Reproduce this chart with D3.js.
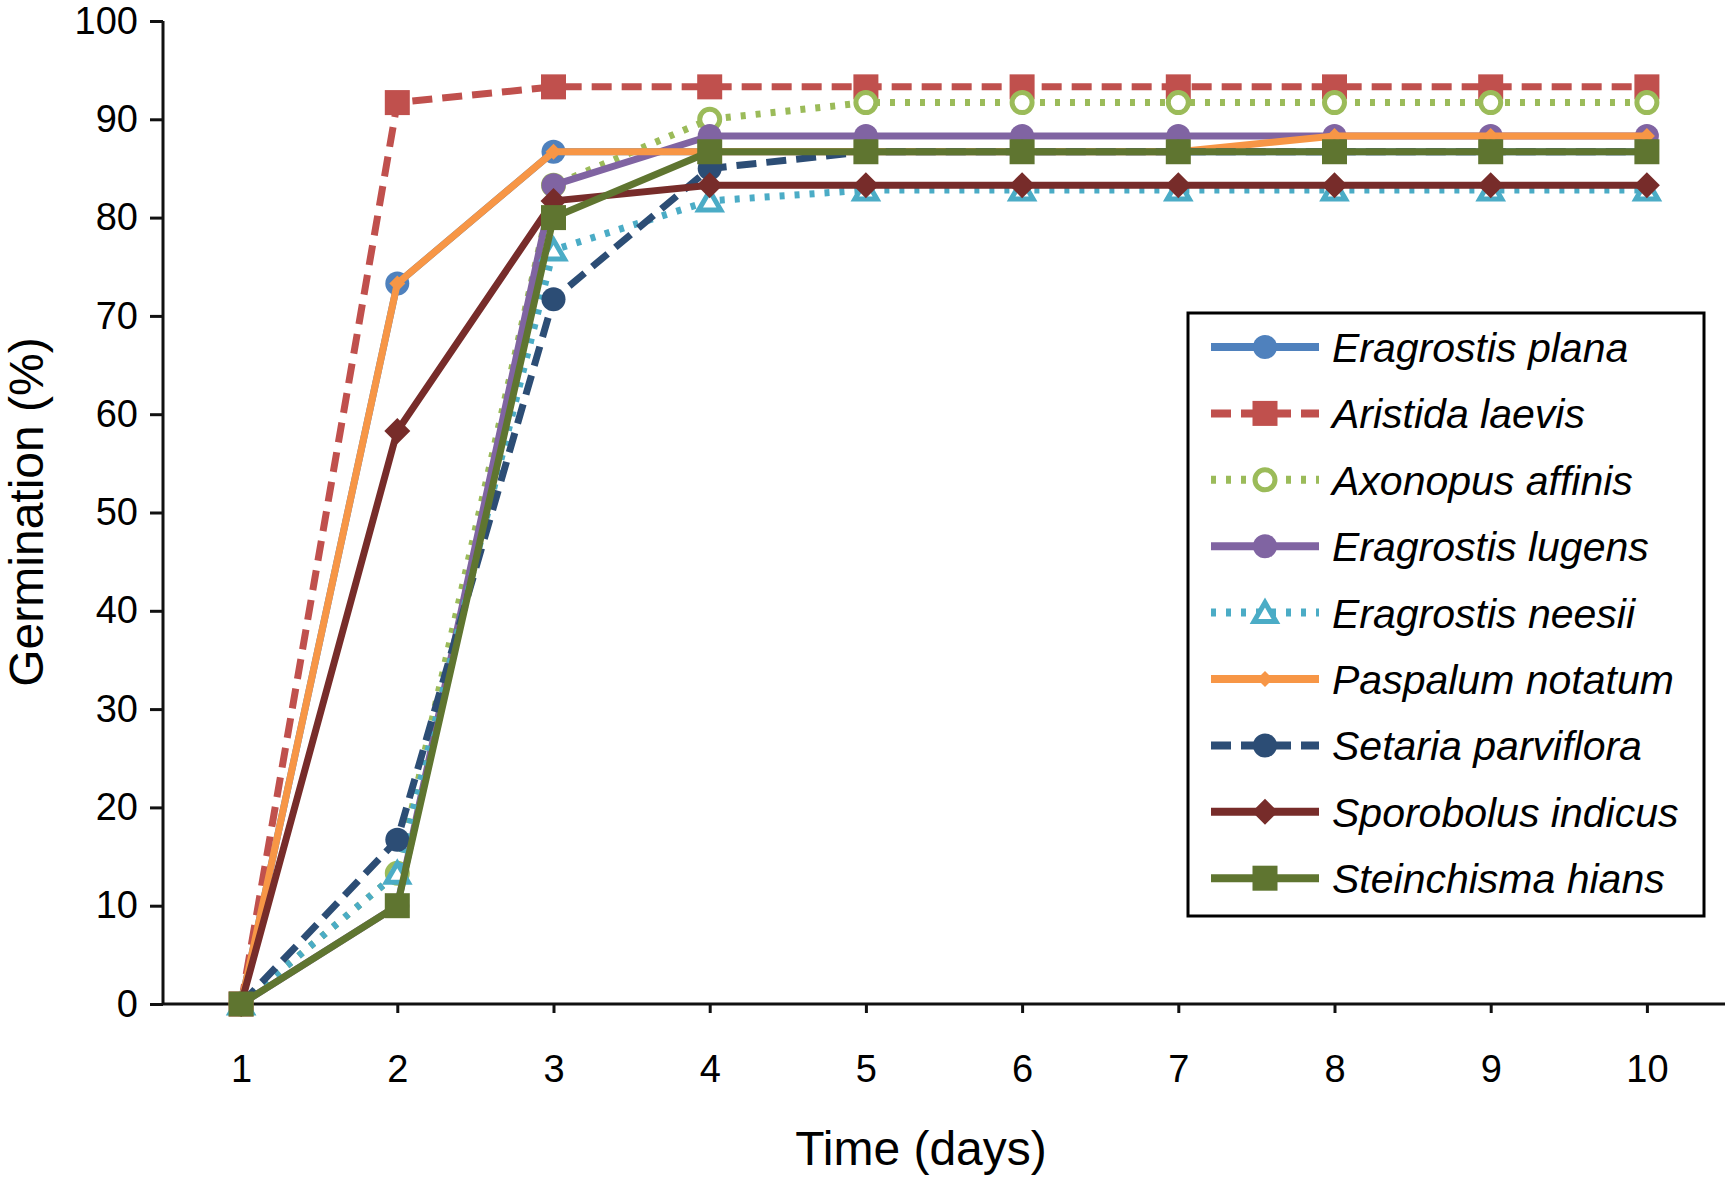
<!DOCTYPE html>
<html>
<head>
<meta charset="utf-8">
<script src="https://cdn.jsdelivr.net/npm/d3@7"></script>
<style>
  body { margin: 0; background: #fff; }
  text { font-family: "Liberation Sans", Arial, Helvetica, sans-serif; fill: #000; }
</style>
</head>
<body>
<div id="chart"></div>
<script>
/* germination (%) per day */
var days = [1, 2, 3, 4, 5, 6, 7, 8, 9, 10];
var yTicks = [0, 10, 20, 30, 40, 50, 60, 70, 80, 90, 100];

var species = ["Eragrostis plana", "Aristida laevis", "Axonopus affinis", "Eragrostis lugens",
               "Eragrostis neesii", "Paspalum notatum", "Setaria parviflora", "Sporobolus indicus",
               "Steinchisma hians"];

var plana      = [0, 73.3, 86.7, 86.7, 86.7, 86.7, 86.7, 86.7, 86.7, 86.7];
var laevis     = [0, 91.7, 93.3, 93.3, 93.3, 93.3, 93.3, 93.3, 93.3, 93.3];
var affinis    = [0, 13.3, 83.3, 90.0, 91.7, 91.7, 91.7, 91.7, 91.7, 91.7];
var lugens     = [0, 10.0, 83.3, 88.3, 88.3, 88.3, 88.3, 88.3, 88.3, 88.3];
var neesii     = [0, 13.3, 76.7, 81.7, 82.8, 82.8, 82.8, 82.8, 82.8, 82.8];
var notatum    = [0, 73.3, 86.7, 86.7, 86.7, 86.7, 86.7, 88.3, 88.3, 88.3];
var parviflora = [0, 16.7, 71.7, 85.0, 86.7, 86.7, 86.7, 86.7, 86.7, 86.7];
var indicus    = [0, 58.3, 81.7, 83.3, 83.3, 83.3, 83.3, 83.3, 83.3, 83.3];
var hians      = [0, 10.0, 80.0, 86.7, 86.7, 86.7, 86.7, 86.7, 86.7, 86.7];

var values = [plana, laevis, affinis, lugens, neesii, notatum, parviflora, indicus, hians];

// look of each series (same order as species)
var colors = ["#4F81BD", "#C0504D", "#9BBB59", "#8064A2", "#4BACC6", "#F79646", "#2C4D75", "#772C2A", "#5F7530"];
var dashes = [null, "20,10", "5,10", null, "5,10", null, "20,10", null, null];
var shapes = ["circle", "square", "ring", "circle", "triangle", "smalldiamond", "circle", "diamond", "square"];

var width = 1726, height = 1188;
var margin = {top: 21, right: 1, bottom: 184, left: 163};

var svg = d3.select("#chart")
            .append("svg")
            .attr("width", width)
            .attr("height", height);

svg.append("rect").attr("width", width).attr("height", height).style("fill", "#fff");

var x = d3.scalePoint()
          .domain(days)
          .range([margin.left, width - margin.right])
          .padding(0.5);

var y = d3.scaleLinear()
          .domain([0, 100])
          .range([height - margin.bottom, margin.top]);

/* axes */
var yAxis = svg.append("g")
               .attr("transform", "translate(" + margin.left + ",0)")
               .call(d3.axisLeft(y).tickValues(yTicks).tickSize(13).tickPadding(12));

var xAxis = svg.append("g")
               .attr("transform", "translate(0," + y(0) + ")")
               .call(d3.axisBottom(x).tickSize(9).tickPadding(42).tickSizeOuter(0));

[yAxis, xAxis].forEach(function(a) {
  a.select(".domain").style("stroke", "#111").style("stroke-width", 3);
  a.selectAll(".tick line").style("stroke", "#111").style("stroke-width", 3);
  a.selectAll(".tick text").style("font-size", "38px").style("fill", "#000");
});
// y axis stops at 100, no outer tick
yAxis.select(".domain").attr("d", "M0," + y(0) + "V" + y(100));
xAxis.select(".domain").attr("d", "M" + margin.left + ",0H" + (width - margin.right));

svg.append("text")
   .attr("x", 921).attr("y", 1165)
   .attr("text-anchor", "middle")
   .style("font-size", "48px")
   .text("Time (days)");

svg.append("text")
   .attr("transform", "translate(43,512) rotate(-90)")
   .attr("text-anchor", "middle")
   .style("font-size", "48px")
   .text("Germination (%)");

/* marker drawing, shared by plot and legend */
function marker(g, shape, color) {
  var sym;
  if (shape == "circle") {
    sym = g.append("circle").attr("r", 12).style("fill", color);
  } else if (shape == "ring") {
    sym = g.append("circle").attr("r", 10).style("fill", "#fff").style("stroke", color).style("stroke-width", 5);
  } else if (shape == "square") {
    sym = g.append("rect").attr("x", -12.5).attr("y", -12.5).attr("width", 25).attr("height", 25).style("fill", color);
  } else if (shape == "diamond") {
    sym = g.append("path").attr("d", "M0,-13L13,0L0,13L-13,0Z").style("fill", color);
  } else if (shape == "smalldiamond") {
    sym = g.append("path").attr("d", "M0,-8L8,0L0,8L-8,0Z").style("fill", color);
  } else if (shape == "triangle") {
    sym = g.append("path").attr("d", "M0,-10L11,9L-11,9Z").style("fill", "#fff")
           .style("stroke", color).style("stroke-width", 5).style("stroke-linejoin", "miter");
  }
  return sym;
}

var line = d3.line()
             .x(function(d, i) { return x(days[i]); })
             .y(function(d) { return y(d); });

/* series, drawn in order so the last one sits on top */
species.forEach(function(name, k) {
  var g = svg.append("g").attr("class", "series");

  g.append("path")
   .datum(values[k])
   .attr("d", line)
   .style("fill", "none")
   .style("stroke", colors[k])
   .style("stroke-width", 7)
   .style("stroke-dasharray", dashes[k])
   .style("stroke-linejoin", "round");

  values[k].forEach(function(v, i) {
    var m = g.append("g").attr("transform", "translate(" + x(days[i]) + "," + y(v) + ")");
    marker(m, shapes[k], colors[k]);
  });
});

/* legend */
var legend = svg.append("g").attr("class", "legend");

legend.append("rect")
      .attr("x", 1188).attr("y", 313)
      .attr("width", 516).attr("height", 603)
      .style("fill", "#fff")
      .style("stroke", "#000")
      .style("stroke-width", 3);

species.forEach(function(name, k) {
  var ly = 347 + k * 66.4;
  var row = legend.append("g").attr("transform", "translate(0," + ly + ")");

  row.append("line")
     .attr("x1", 1211).attr("x2", 1319)
     .attr("y1", 0).attr("y2", 0)
     .style("stroke", colors[k])
     .style("stroke-width", 8)
     .style("stroke-dasharray", dashes[k]);

  var m = row.append("g").attr("transform", "translate(1265,0)");
  marker(m, shapes[k], colors[k]);

  row.append("text")
     .attr("x", 1332).attr("y", 15)
     .style("font-size", "41px")
     .style("font-style", "italic")
     .text(name);
});
</script>
</body>
</html>
